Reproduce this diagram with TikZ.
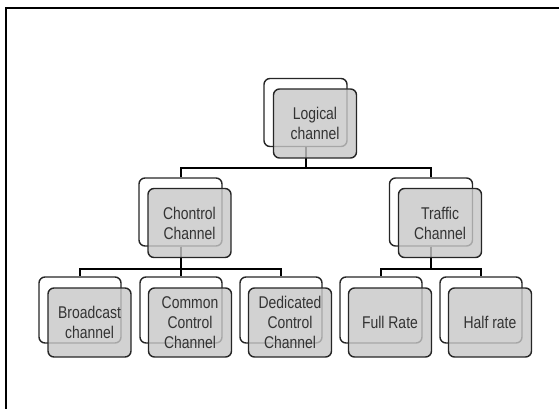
\documentclass[tikz,border=0pt]{standalone}
\usepackage{fontspec}
\setmainfont[FakeStretch=0.82]{Liberation Sans}
\begin{document}
\begin{tikzpicture}[x=1pt,y=-1pt,
  backbox/.style={draw=black!85,line width=1.4pt,rounded corners=6pt,fill=white,inner sep=0pt,minimum width=83pt,minimum height=68pt},
  frontbox/.style={draw=black!85,line width=1.4pt,rounded corners=6pt,fill=black!22,fill opacity=0.8,text opacity=1,draw opacity=1,inner sep=0pt,minimum width=83pt,minimum height=69pt,align=center,text=black!80,font=\fontsize{17}{20}\selectfont},
  conn/.style={draw=black,line width=2pt}]
\useasboundingbox (0,0) rectangle (559,409);
\draw[line width=2.5pt] (6,409) -- (6,8) -- (559,8);
% back boxes
\node[backbox] (lcB) at (305.5,112.5) {};
\node[backbox] (ccB) at (180.5,212) {};
\node[backbox] (tcB) at (431,212) {};
\node[backbox,minimum width=82pt,minimum height=66pt] (bcB) at (80,310) {};
\node[backbox,minimum width=82pt,minimum height=66pt] (cmB) at (181,310) {};
\node[backbox,minimum width=82pt,minimum height=66pt] (dcB) at (281,310) {};
\node[backbox,minimum width=82pt,minimum height=66pt] (frB) at (381,310) {};
\node[backbox,minimum width=82pt,minimum height=66pt] (hrB) at (481,310) {};
% connectors
\draw[conn] (lcB.south) -- ++(0,21) -| (ccB.north);
\draw[conn] (lcB.south) -- ++(0,21) -| (tcB.north);
\draw[conn] (ccB.south) -- ++(0,22) -| (bcB.north);
\draw[conn] (ccB.south) -- ++(0,22) -| (cmB.north);
\draw[conn] (ccB.south) -- ++(0,22) -| (dcB.north);
\draw[conn] (tcB.south) -- ++(0,22) -| (frB.north);
\draw[conn] (tcB.south) -- ++(0,22) -| (hrB.north);
% front boxes
\node[frontbox] (lc) at (315,123.5) {Logical\\channel};
\node[frontbox] (cc) at (189.5,223) {Chontrol\\Channel};
\node[frontbox] (tc) at (440,223) {Traffic\\Channel};
\node[frontbox] (bc) at (89.5,322.5) {Broadcast\\channel};
\node[frontbox] (cm) at (190,322.5) {Common\\Control\\Channel};
\node[frontbox] (dc) at (290,322.5) {Dedicated\\Control\\Channel};
\node[frontbox] (fr) at (390,322.5) {Full Rate};
\node[frontbox] (hr) at (490,322.5) {Half rate};
\end{tikzpicture}
\end{document}
